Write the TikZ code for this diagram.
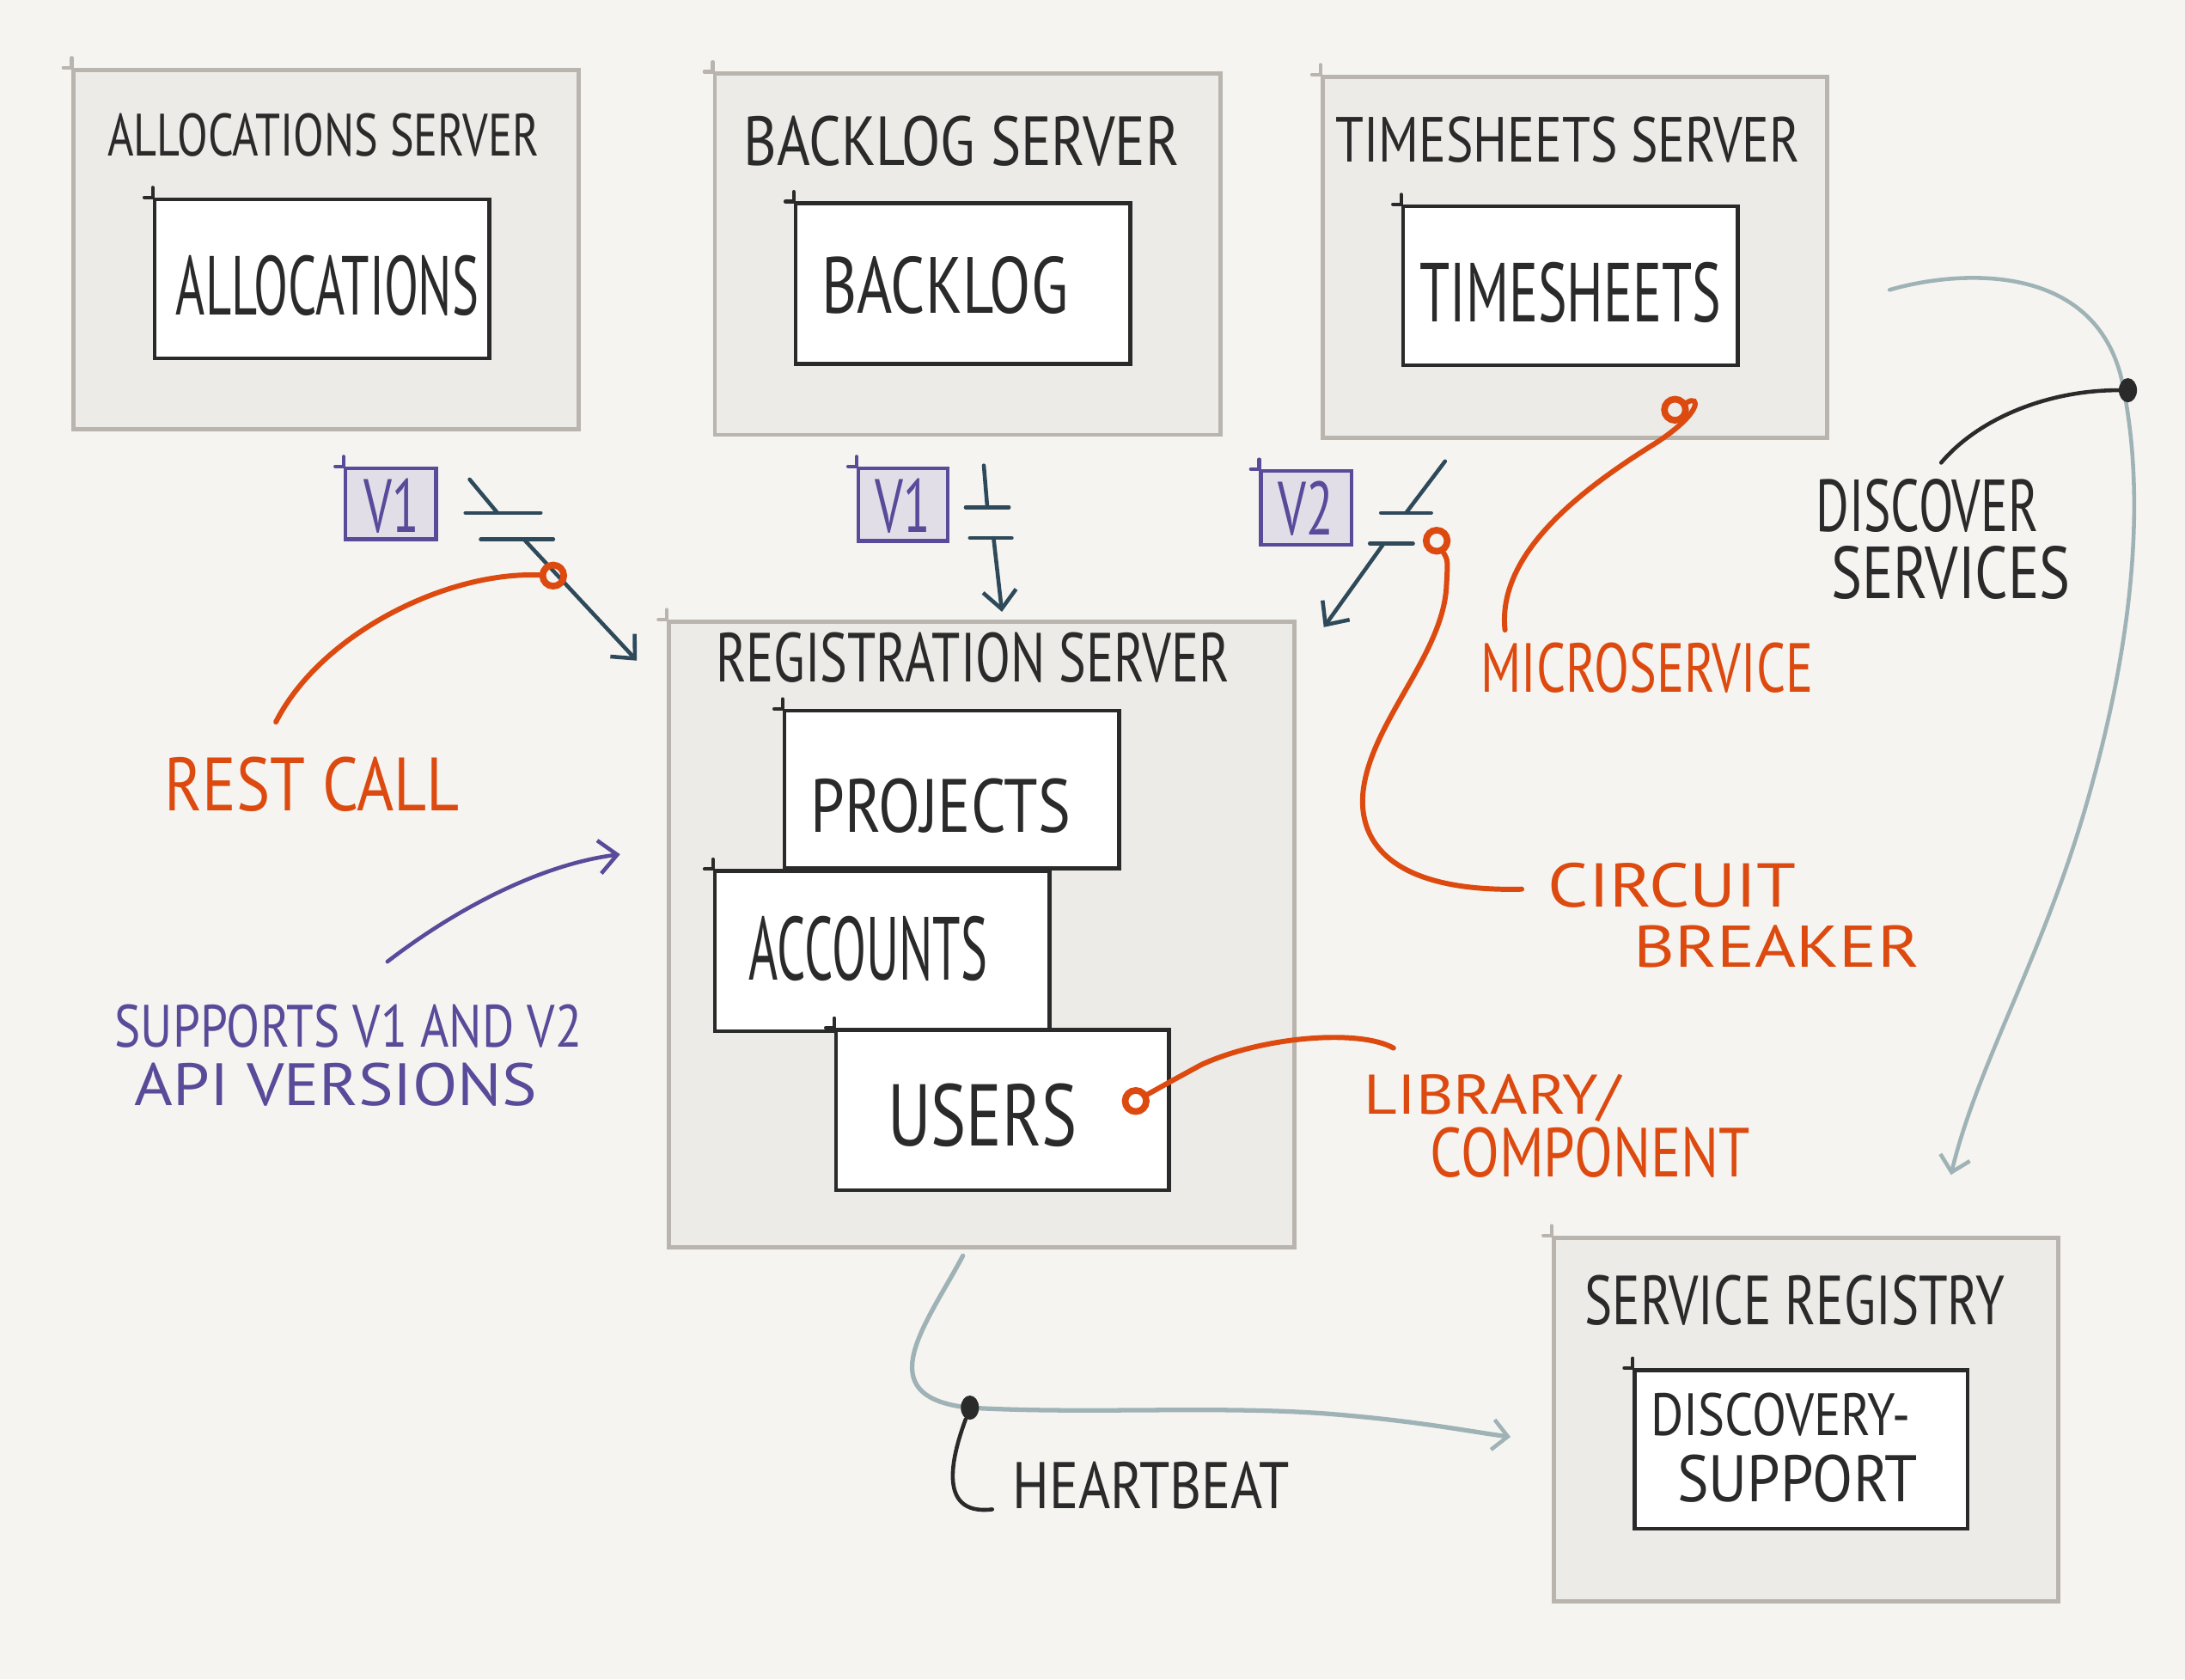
\documentclass[tikz,border=0pt]{standalone}
\usepackage{fontspec}
\setmainfont{PT Sans}
\usetikzlibrary{fit,calc,arrows.meta,shapes.geometric}
\definecolor{bg}{HTML}{F5F4F0}
\definecolor{boxfill}{HTML}{ECEBE7}
\definecolor{boxline}{HTML}{B9B4AD}
\definecolor{ink}{HTML}{2A2A2A}
\definecolor{vpurple}{HTML}{5A4A9A}
\definecolor{vfill}{HTML}{E2DEE8}
\definecolor{slate}{HTML}{2E4A5A}
\definecolor{orng}{HTML}{DD4A10}
\definecolor{gblue}{HTML}{9FB3B6}
\newcommand{\hf}[2]{\fontspec[FakeStretch=#1]{PT Sans}\fontsize{#2}{#2}\selectfont}
\newcommand{\corner}[2]{%
  \draw[#2, line width=1.2pt, line cap=round] ($(#1.north west)+(-6,0)$) -- (#1.north west) -- ($(#1.north west)+(0,-7)$);}
\begin{document}
\begin{tikzpicture}[x=0.016218cm,y=-0.016218cm,
  serverbox/.style={draw=boxline, fill=boxfill, line width=1.4pt, inner sep=0pt},
  compbox/.style={draw=ink, fill=white, line width=1.3pt, inner sep=0pt},
  verbox/.style={draw=vpurple, fill=vfill, line width=1.3pt, inner sep=0pt},
  lbl/.style={text=ink, inner sep=0pt},
  olbl/.style={text=orng, inner sep=0pt},
  plbl/.style={text=vpurple, inner sep=0pt},
  sock/.style={draw=slate, line width=1.3pt, line cap=round},
  slatearrow/.style={draw=slate, line width=1.3pt, line cap=round, -{Straight Barb[length=6pt,width=11pt,line width=1.3pt]}},
  ocurve/.style={draw=orng, line width=1.7pt, line cap=round},
  odot/.style={circle, draw=orng, line width=2.2pt, minimum size=7pt, inner sep=0pt},
  gcurve/.style={draw=gblue, line width=1.3pt, line cap=round, -{Straight Barb[length=5pt,width=10pt,line width=1.3pt]}},
  pcurve/.style={draw=vpurple, line width=1.3pt, line cap=round, -{Straight Barb[length=6pt,width=11pt,line width=1.3pt]}},
  kcurve/.style={draw=ink, line width=1.3pt, line cap=round},
  kdot/.style={ellipse, fill=ink, minimum width=6pt, minimum height=8pt, inner sep=0pt}]
\fill[bg] (0,0) rectangle (1568,1205);
\useasboundingbox (0,0) rectangle (1568,1205);

% ---------- servers ----------
\node[serverbox, fit={(53,50) (415,308)}] (allocS) {};
\corner{allocS}{boxline}
\node[compbox, fit={(111,143) (351,257)}] (allocC) {};
\corner{allocC}{ink}
\node[lbl, font={\hf{0.75}{19.8}}] (allocT) at (232,97) {ALLOCATIONS SERVER};
\node[lbl, font={\hf{0.6}{27.7}}] (allocL) at (235,205) {ALLOCATIONS};

\node[serverbox, fit={(513,53) (876,312)}] (backS) {};
\corner{backS}{boxline}
\node[compbox, fit={(571,146) (811,261)}] (backC) {};
\corner{backC}{ink}
\node[lbl, font={\hf{0.82}{23}}] (backT) at (690,101) {BACKLOG SERVER};
\node[lbl, font={\hf{0.76}{26.4}}] (backL) at (678,205) {BACKLOG};

\node[serverbox, fit={(949,55) (1311,314)}] (timeS) {};
\corner{timeS}{boxline}
\node[compbox, fit={(1007,148) (1247,262)}] (timeC) {};
\corner{timeC}{ink}
\node[lbl, font={\hf{0.8}{21.1}}] (timeT) at (1125,100) {TIMESHEETS SERVER};
\node[lbl, font={\hf{0.65}{27.7}}] (timeL) at (1127,210) {TIMESHEETS};

\node[serverbox, fit={(480,446) (929,895)}] (regS) {};
\corner{regS}{boxline}
\node[lbl, font={\hf{0.74}{23}}] (regT) at (698,472) {REGISTRATION SERVER};
\node[compbox, fit={(563,510) (803,623)}] (projC) {};
\corner{projC}{ink}
\node[lbl, font={\hf{0.81}{25}}] (projL) at (675,578) {PROJECTS};
\node[compbox, fit={(513,625) (753,740)}] (accC) {};
\corner{accC}{ink}
\node[lbl, font={\hf{0.56}{29.7}}] (accL) at (623,681) {ACCOUNTS};
\node[compbox, fit={(600,739) (839,854)}] (usrC) {};
\corner{usrC}{ink}
\node[lbl, font={\hf{0.76}{29}}] (usrL) at (705,800) {USERS};

\node[serverbox, fit={(1115,888) (1477,1149)}] (srS) {};
\corner{srS}{boxline}
\node[lbl, font={\hf{0.75}{23}}] (srT) at (1288,933) {SERVICE REGISTRY};
\node[compbox, fit={(1173,983) (1412,1097)}] (dsC) {};
\corner{dsC}{ink}
\node[lbl, font={\hf{0.84}{19.8}}] (dsL1) at (1278,1015) {DISCOVERY-};
\node[lbl, font={\hf{0.9}{21.8}}] (dsL2) at (1290,1061) {SUPPORT};

% ---------- versions ----------
\node[verbox, fit={(248,336) (313,387)}] (v1a) {};
\corner{v1a}{vpurple}
\node[plbl, font={\hf{0.66}{25}}] (v1aL) at (281,363) {V1};
\node[verbox, fit={(616,336) (680,388)}] (v1b) {};
\corner{v1b}{vpurple}
\node[plbl, font={\hf{0.66}{25}}] (v1bL) at (648,363) {V1};
\node[verbox, fit={(905,338) (970,391)}] (v2) {};
\corner{v2}{vpurple}
\node[plbl, font={\hf{0.66}{25}}] (v2L) at (937,365) {V2};

% ---------- sockets and calls ----------
\draw[sock] (334,368) -- (388,368);
\draw[sock] (337,344) -- (357,368);
\draw[sock] (345,387) -- (397,387);
\coordinate (c1s) at (376,387);
\coordinate (c1e) at (457,474);
\draw[slatearrow] (c1s) -- (c1e);

\draw[sock] (693,364) -- (724,364);
\draw[sock] (706,334) -- (708.5,364);
\draw[sock] (696,386) -- (726,386);
\coordinate (c2s) at (713,386);
\coordinate (c2e) at (719,439);
\draw[slatearrow] (c2s) -- (c2e);

\draw[sock] (991,368) -- (1027,368);
\draw[sock] (1037,331) -- (1009,368);
\draw[sock] (983,390) -- (1014,390);
\coordinate (c3s) at (993,390);
\coordinate (c3e) at (950,450);
\draw[slatearrow] (c3s) -- (c3e);

% ---------- orange annotations ----------
\node[olbl, font={\hf{0.84}{25}}] (restL) at (224,563) {REST CALL};
\node[odot] (restD) at (397,413) {};
\coordinate (restS) at (198,518);
\draw[ocurve] (restS) .. controls (230,455) and (320,410) .. (restD);

\node[olbl, font={\hf{0.74}{23}}] (microL) at (1182,479) {MICROSERVICE};
\node[odot] (microD) at (1202,294) {};
\coordinate (microS) at (1080,452);
\draw[ocurve] (microS) .. controls (1074,395) and (1140,348) .. (1188,318) .. controls (1222,296) and (1220,283) .. (microD);

\node[olbl, font={\hf{1.15}{20.5}}] (cbL1) at (1200,635) {CIRCUIT};
\node[olbl, font={\hf{1.2}{19.5}}] (cbL2) at (1275,679) {BREAKER};
\node[odot] (cbD) at (1031,388) {};
\coordinate (cbS) at (1092,638);
\draw[ocurve] (cbS) .. controls (1010,640) and (975,612) .. (978,570) .. controls (982,520) and (1036,470) .. (1038,420) .. controls (1039,402) .. (cbD);

\node[olbl, font={\hf{1.15}{18.5}}] (libL1) at (1071,788) {LIBRARY/};
\node[olbl, font={\hf{0.81}{23}}] (libL2) at (1141,827) {COMPONENT};
\node[odot] (libD) at (815,790) {};
\coordinate (libS) at (1000,752);
\draw[ocurve] (libS) .. controls (975,738) and (905,744) .. (862,764) .. controls (840,776) .. (libD);

% ---------- purple annotation ----------
\node[plbl, font={\hf{0.82}{19.8}}] (supL1) at (250,736) {SUPPORTS V1 AND V2};
\node[plbl, font={\hf{1.1}{19.8}}] (supL2) at (241,778) {API VERSIONS};
\coordinate (supS) at (278,690);
\coordinate (supE) at (445,613);
\draw[pcurve] (supS) .. controls (330,650) and (390,620) .. (supE);

% ---------- discovery ----------
\coordinate (dcS) at (1356,208);
\coordinate (dcE) at (1400,843);
\draw[gcurve] (dcS) .. controls (1400,195) and (1500,185) .. (1522,270) .. controls (1540,350) and (1532,450) .. (1502,560) .. controls (1470,680) and (1420,760) .. (dcE);
\node[kdot] (dcD) at (1527,280) {};
\coordinate (dcK) at (1393,332);
\draw[kcurve] (dcK) .. controls (1420,300) and (1470,280) .. (dcD);
\node[lbl, font={\hf{0.69}{24.4}}] (dcL1) at (1383,363) {DISCOVER};
\node[lbl, font={\hf{0.79}{24.4}}] (dcL2) at (1400,411) {SERVICES};

% ---------- heartbeat ----------
\coordinate (hbS) at (691,901);
\coordinate (hbE) at (1084,1031);
\draw[gcurve, line width=1.5pt] (hbS) .. controls (665,950) and (622,1002) .. (695,1010) .. controls (780,1015) and (880,1008) .. (960,1015) .. controls (1020,1020) and (1060,1028) .. (hbE);
\node[kdot] (hbD) at (696,1010) {};
\coordinate (hbK) at (712,1083);
\draw[kcurve] (hbD) .. controls (685,1040) and (670,1088) .. (hbK);
\node[lbl, font={\hf{0.83}{21.8}}] (hbL) at (826,1066) {HEARTBEAT};
\end{tikzpicture}
\end{document}
